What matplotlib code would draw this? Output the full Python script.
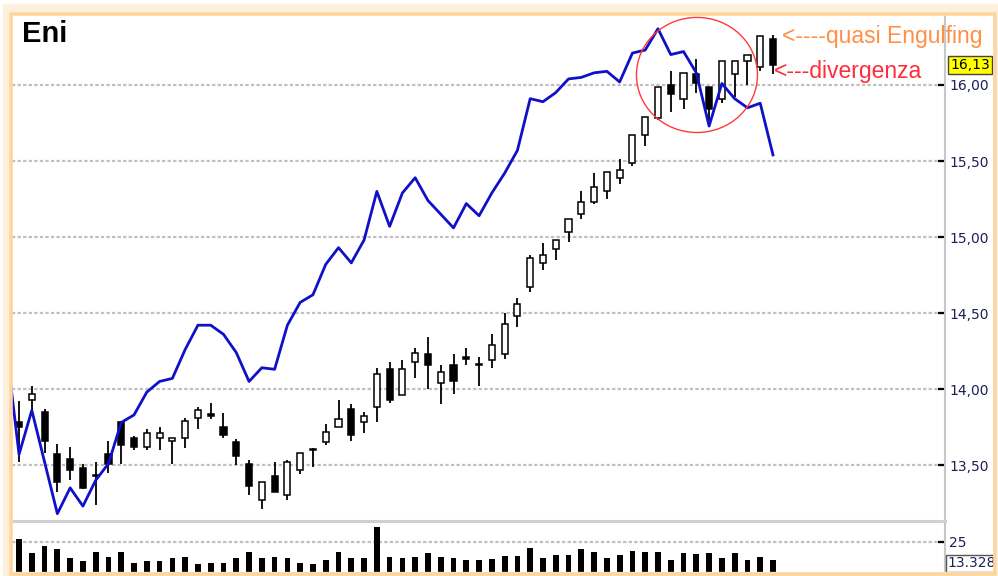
import numpy as np
import matplotlib.pyplot as plt
import matplotlib.transforms as mtransforms
from matplotlib.patches import Rectangle, Ellipse

# daily candles
opens = [13.78, 13.93, 13.85, 13.57, 13.54, 13.48, 13.435, 13.57, 13.78, 13.68,
         13.62, 13.68, 13.66, 13.68, 13.81, 13.835, 13.75, 13.65, 13.51, 13.27,
         13.43, 13.30, 13.47, 13.605, 13.65, 13.75, 13.87, 13.78, 13.88, 14.13,
         13.96, 14.18, 14.23, 14.04, 14.16, 14.21, 14.165, 14.19, 14.23, 14.48,
         14.67, 14.83, 14.92, 15.03, 15.15, 15.23, 15.30, 15.39, 15.49, 15.67,
         15.78, 16.00, 15.91, 16.07, 15.985, 15.91, 16.07, 16.155, 16.12, 16.30]
highs = [13.92, 14.02, 13.87, 13.64, 13.62, 13.51, 13.52, 13.66, 13.79, 13.69,
         13.74, 13.75, 13.68, 13.81, 13.88, 13.91, 13.84, 13.67, 13.53, 13.39,
         13.52, 13.53, 13.58, 13.61, 13.77, 13.93, 13.90, 13.85, 14.14, 14.18,
         14.19, 14.27, 14.34, 14.16, 14.23, 14.27, 14.21, 14.36, 14.50, 14.60,
         14.88, 14.96, 14.98, 15.12, 15.30, 15.42, 15.43, 15.51, 15.67, 15.79,
         15.99, 16.09, 16.08, 16.17, 15.99, 16.16, 16.155, 16.20, 16.32, 16.33]
lows = [13.52, 13.84, 13.58, 13.32, 13.40, 13.34, 13.24, 13.45, 13.51, 13.60,
        13.60, 13.60, 13.51, 13.61, 13.74, 13.80, 13.68, 13.50, 13.30, 13.21,
        13.32, 13.27, 13.44, 13.49, 13.63, 13.75, 13.66, 13.71, 13.78, 13.91,
        13.96, 14.07, 14.00, 13.90, 13.97, 14.16, 14.02, 14.14, 14.20, 14.41,
        14.64, 14.78, 14.85, 14.97, 15.12, 15.22, 15.25, 15.35, 15.47, 15.60,
        15.77, 15.82, 15.84, 15.95, 15.77, 15.88, 15.92, 16.00, 16.09, 16.07]
closes = [13.75, 13.97, 13.66, 13.39, 13.47, 13.35, 13.43, 13.51, 13.63, 13.62,
          13.71, 13.71, 13.68, 13.79, 13.86, 13.825, 13.70, 13.56, 13.36, 13.39,
          13.32, 13.52, 13.58, 13.60, 13.72, 13.80, 13.70, 13.82, 14.10, 13.93,
          14.13, 14.24, 14.16, 14.11, 14.05, 14.20, 14.16, 14.29, 14.43, 14.56,
          14.86, 14.88, 14.98, 15.12, 15.23, 15.33, 15.43, 15.44, 15.67, 15.79,
          15.99, 15.94, 16.08, 16.01, 15.84, 16.16, 16.155, 16.20, 16.32, 16.13]
volume = [26.8, 17.7, 22.6, 20.5, 14.4, 12.7, 18.5, 15.5, 18.5, 11.6,
          12.5, 12.5, 14.4, 15.5, 10.5, 11.6, 11.6, 14.4, 18.5, 14.4,
          15.5, 14.4, 11.6, 10.5, 13.3, 18.5, 14.4, 14.4, 34.5, 15.5,
          14.4, 15.5, 17.7, 15.5, 14.4, 13.3, 13.3, 13.8, 15.9, 15.9,
          21.3, 14.4, 16.6, 16.6, 20.3, 18.3, 14.4, 16.6, 19.4, 18.3,
          18.3, 13.3, 17.7, 17.2, 17.7, 14.4, 17.7, 13.3, 15.1, 13.3]

# blue overlay line, one point per bar (starts one bar before the first candle)
line_x = list(range(-1, 60))
line_y = [14.28, 13.57, 13.86, 13.52, 13.18, 13.35, 13.23, 13.40, 13.51, 13.78,
          13.83, 13.98, 14.05, 14.07, 14.26, 14.42, 14.42, 14.36, 14.24, 14.05,
          14.14, 14.13, 14.42, 14.57, 14.62, 14.82, 14.93, 14.83, 14.98, 15.30,
          15.07, 15.29, 15.39, 15.24, 15.15, 15.06, 15.22, 15.14, 15.29, 15.42,
          15.57, 15.91, 15.89, 15.95, 16.04, 16.05, 16.08, 16.09, 16.02, 16.21,
          16.23, 16.37, 16.20, 16.22, 16.08, 15.73, 16.01, 15.91, 15.85, 15.88,
          15.54]

price_ticks = [13.5, 14.0, 14.5, 15.0, 15.5, 16.0]
price_labels = ["13,50", "14,00", "14,50", "15,00", "15,50", "16,00"]
last_price = 16.13
last_price_label = "16,13"
vol_ticks = [25]
last_volume_label = "13.328"

x = np.arange(len(opens))
o = np.array(opens)
c = np.array(closes)
up = c >= o

fig = plt.figure(figsize=(9.98, 5.76), dpi=100)
W, H = 998, 576

ax = fig.add_axes([12 / W, 1 - 521 / H, 933 / W, 507 / H])
axv = fig.add_axes([12 / W, 0, 933 / W, 52 / H])

tick_color = "#1c2050"

# price panel
ax.vlines(x, lows, highs, color="black", lw=1.3, zorder=2)
ax.bar(x, np.maximum(np.abs(c - o), 0.006), bottom=np.minimum(o, c), width=0.48,
       color=np.where(up, "white", "black"), edgecolor="black", linewidth=1.1, zorder=3)
ax.plot(line_x, line_y, color="#1010c8", lw=2.0, zorder=4)

ax.set_xlim(-0.55, 72.46)
ax.set_ylim(13.132, 16.467)
ax.set_yticks(price_ticks)
ax.set_yticklabels(price_labels)
ax.yaxis.tick_right()
ax.tick_params(axis="y", direction="in", length=5, width=1.6, color="black",
               pad=3, labelsize=10, labelcolor=tick_color)
ax.set_xticks([])
ax.grid(axis="y", color="#c0c0c0", linestyle=(0, (1.5, 1.0)), lw=1.6, zorder=0)
for s in ["left", "top"]:
    ax.spines[s].set_visible(False)
ax.spines["right"].set_color("#c8c8c8")
ax.spines["right"].set_linewidth(1.5)
ax.spines["bottom"].set_color("#d0d0d0")
ax.spines["bottom"].set_linewidth(2.2)

blend = mtransforms.blended_transform_factory(ax.transAxes, ax.transData)
ax.text(1.0055, last_price, last_price_label, transform=blend, fontsize=10,
        color="black", va="center", ha="left",
        bbox=dict(boxstyle="square,pad=0.15", facecolor="#ffff00",
                  edgecolor="#444444", lw=1.0), zorder=6)

# annotations
ax.add_patch(Ellipse((53.05, 16.066), 9.47, 0.757, fill=False,
                     edgecolor="#ff3a3a", lw=1.0, zorder=5))
ax.text(59.7, 16.316, "<----quasi Engulfing", fontsize=16.5, color="#ff8f45",
        family="Liberation Sans", va="center", ha="left", zorder=6)
ax.text(59.1, 16.09, "<---divergenza", fontsize=16.5, color="#ff2d3c",
        family="Liberation Sans", va="center", ha="left", zorder=6)

fig.text(22 / W, 1 - 20 / H, "Eni", fontsize=21, fontweight="bold",
         family="Liberation Sans", va="top", ha="left")

# volume panel
axv.bar(x, volume, width=0.45, color="black", zorder=3)
axv.set_xlim(ax.get_xlim())
axv.set_ylim(2.95, 36.67)
axv.set_yticks(vol_ticks)
axv.set_yticklabels([str(t) for t in vol_ticks])
axv.yaxis.tick_right()
axv.tick_params(axis="y", direction="in", length=5, width=1.6, color="black",
                pad=3, labelsize=10, labelcolor=tick_color)
axv.set_xticks([])
axv.grid(axis="y", color="#c0c0c0", linestyle=(0, (1.5, 1.0)), lw=1.6, zorder=0)
for s in ["left", "top", "bottom"]:
    axv.spines[s].set_visible(False)
axv.spines["right"].set_color("#c8c8c8")
axv.spines["right"].set_linewidth(1.5)
axv.text(1.003, 11.2, last_volume_label, transform=mtransforms.blended_transform_factory(
    axv.transAxes, axv.transData), fontsize=10, color=tick_color, va="center", ha="left",
    bbox=dict(boxstyle="square,pad=0.12", facecolor="white", edgecolor="#555555", lw=1.0),
    clip_on=False)

# orange frame
fig.patches.append(Rectangle((7 / W, 0.5 / H), 991 / W, 568 / H, fill=False,
                             edgecolor="#fff0dd", lw=6, transform=fig.transFigure,
                             zorder=9))
fig.patches.append(Rectangle((10.5 / W, 2 / H), 984 / W, 560.5 / H, fill=False,
                             edgecolor="#ffd59e", lw=2.6, transform=fig.transFigure,
                             zorder=10))

fig.savefig("out.png", dpi=100)
